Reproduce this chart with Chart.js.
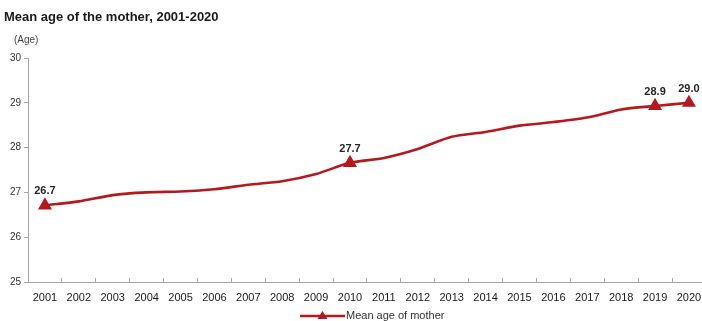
<!DOCTYPE html>
<html><head><meta charset="utf-8">
<script src="https://cdn.jsdelivr.net/npm/chart.js@4"></script>
<style>html,body{margin:0;padding:0;background:#fff;overflow:hidden}#wrap{width:702px;height:321px;position:relative;overflow:hidden}</style>
</head><body><div id="wrap"><canvas id="c" width="714" height="321"></canvas></div>
<script>
const years = ["2001","2002","2003","2004","2005","2006","2007","2008","2009","2010","2011","2012","2013","2014","2015","2016","2017","2018","2019","2020"];
const meanAge = [26.71,26.80,26.94,27.00,27.02,27.07,27.17,27.25,27.41,27.66,27.77,27.97,28.24,28.35,28.49,28.57,28.67,28.85,28.93,29.00];
const labeledYears = ["2001","2010","2019","2020"];
const yTicks = [25,26,27,28,29,30];
const titleText = "Mean age of the mother, 2001-2020";
const unitText = "(Age)";
const seriesName = "Mean age of mother";
const RED = "#b5191e";

const decor = {
  id:'decor',
  afterDatasetsDraw(chart){
    const ctx = chart.ctx;
    ctx.save();
    ctx.fillStyle = '#1a1a1a';
    ctx.font = 'bold 13px "Liberation Sans", Arial, sans-serif';
    ctx.textBaseline = 'middle'; ctx.textAlign = 'left';
    ctx.fillText(titleText, 4, 17);
    ctx.fillStyle = '#444';
    ctx.font = '10px "Liberation Sans", Arial, sans-serif';
    ctx.fillText(unitText, 14, 40);
    // data labels
    const meta = chart.getDatasetMeta(0);
    ctx.font = 'bold 11px "Liberation Sans", Arial, sans-serif';
    ctx.fillStyle = '#262626';
    ctx.textAlign = 'center';
    meta.data.forEach((pt,i)=>{
      if(labeledYears.includes(years[i])){
        ctx.fillText(meanAge[i].toFixed(1), pt.x, pt.y-14);
      }
    });
    // legend
    const lx = 300, ly = 316;
    ctx.strokeStyle = RED; ctx.lineWidth = 2.5;
    ctx.beginPath(); ctx.moveTo(lx, ly); ctx.lineTo(lx+45, ly); ctx.stroke();
    ctx.fillStyle = RED;
    ctx.beginPath(); ctx.moveTo(lx+22.5, ly-5); ctx.lineTo(lx+27.5, ly+3); ctx.lineTo(lx+17.5, ly+3); ctx.closePath(); ctx.fill();
    ctx.fillStyle = '#333';
    ctx.font = '11px "Liberation Sans", Arial, sans-serif';
    ctx.textAlign = 'left';
    ctx.fillText(seriesName, lx+46, ly);
    ctx.restore();
  }
};

new Chart(document.getElementById('c'), {
  type:'line',
  data:{labels:years, datasets:[{
    label:seriesName, data:meanAge, borderColor:RED, backgroundColor:RED,
    borderWidth:2.6, tension:0.25,
    pointStyle:'triangle',
    pointRadius:(c)=> labeledYears.includes(years[c.dataIndex]) ? 5.5 : 0,
    pointHoverRadius:0
  }]},
  options:{
    responsive:false, animation:false,
    layout:{padding:{top:58,left:0,right:0,bottom:0}},
    plugins:{legend:{display:false}, tooltip:{enabled:false}, title:{display:false}},
    scales:{
      x:{
        offset:true,
        grid:{display:true, drawOnChartArea:false, offset:true, tickLength:-4, color:'#a6a6a6'},
        border:{color:'#a6a6a6', width:1},
        ticks:{color:'#1a1a1a', font:{family:'"Liberation Sans", Arial, sans-serif', size:11}, padding:13, maxRotation:0, autoSkip:false},
        afterFit(s){ s.height = 39; s.paddingLeft = 0; s.paddingRight = 0; }
      },
      y:{
        min:25, max:30,
        afterBuildTicks(s){ s.ticks = yTicks.map(v=>({value:v})); },
        grid:{display:true, drawOnChartArea:false, tickLength:4, color:'#a6a6a6'},
        border:{color:'#a6a6a6', width:1},
        ticks:{color:'#333', font:{family:'"Liberation Sans", Arial, sans-serif', size:10}, padding:3},
        afterFit(s){ s.width = 28; s.paddingTop = 0; s.paddingBottom = 0; }
      }
    }
  },
  plugins:[decor]
});
</script></body></html>
